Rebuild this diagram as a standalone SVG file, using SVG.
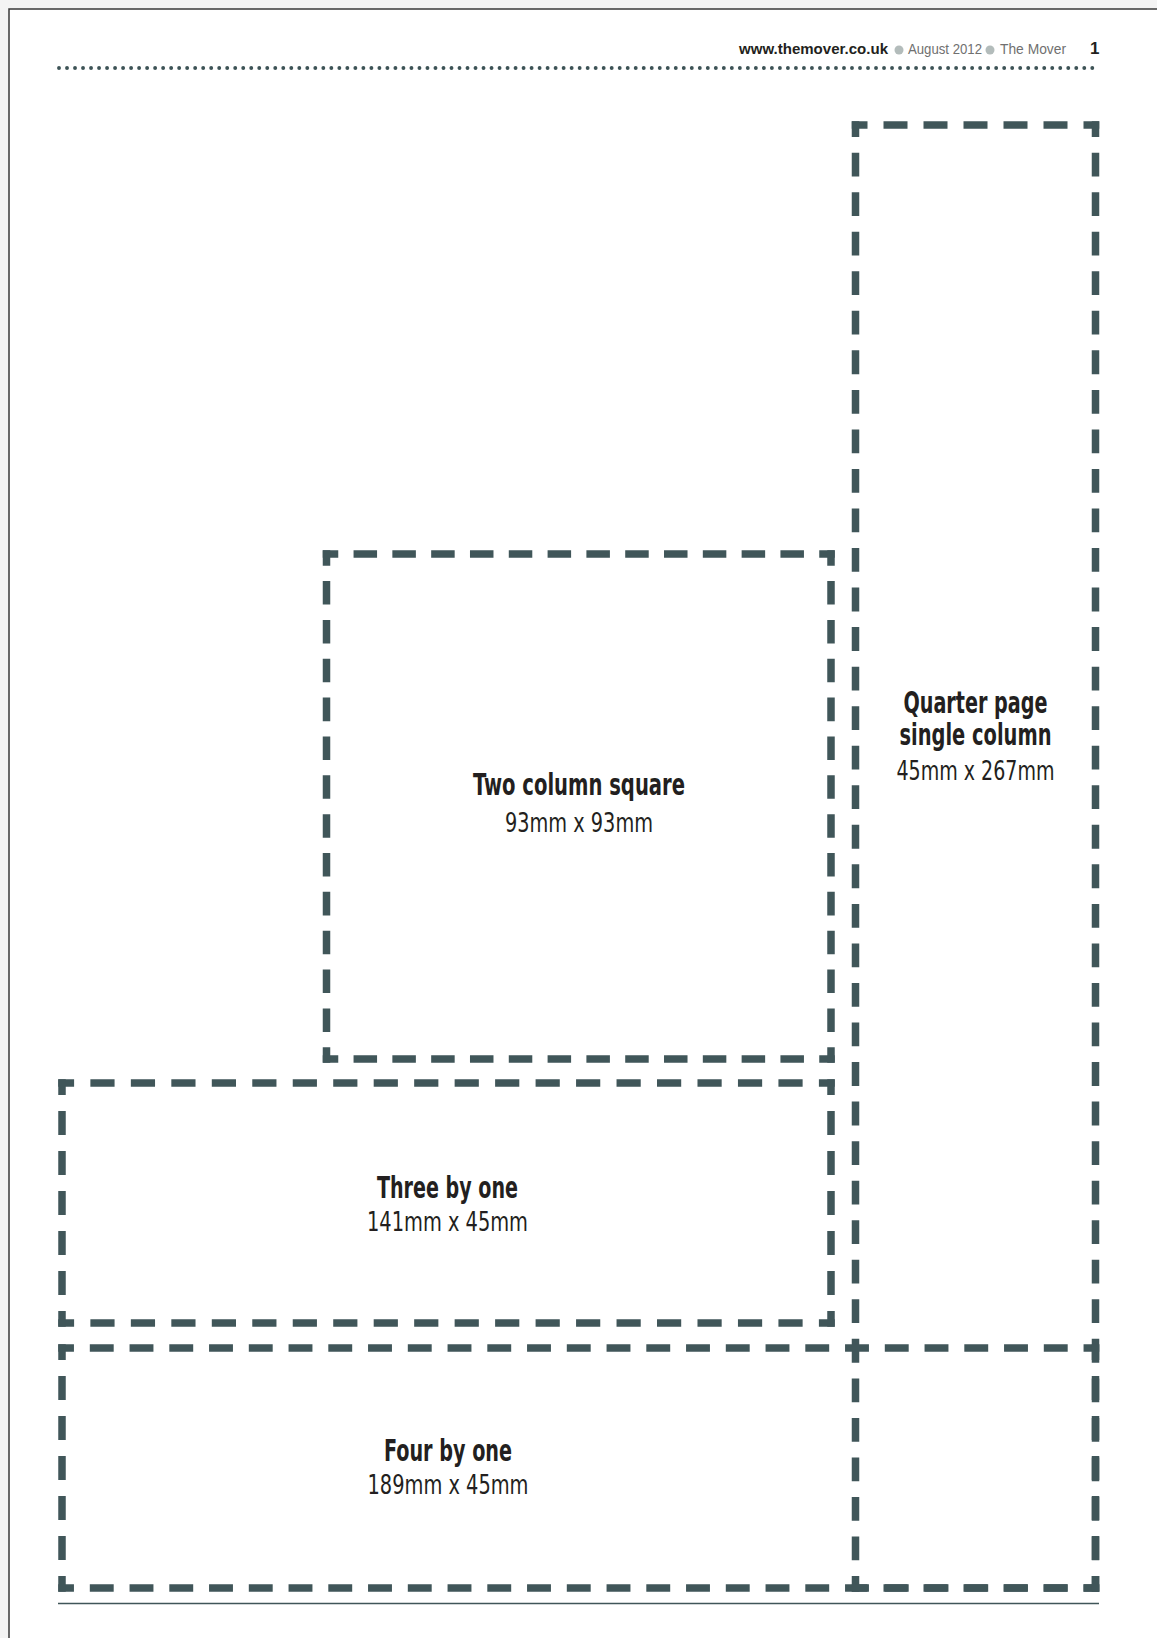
<svg xmlns="http://www.w3.org/2000/svg" width="1157" height="1638" viewBox="0 0 1157 1638">
<style>
.dash{fill:none;stroke:#405659;stroke-width:7.5;stroke-linecap:square;stroke-dasharray:16.5 23.5;stroke-dashoffset:8.25}
.lb{font-family:"Liberation Sans Narrow","DejaVu Sans Condensed","Roboto Condensed","Liberation Sans",sans-serif;font-stretch:condensed;text-anchor:middle;fill:#231f20}
.b{font-weight:bold;font-size:30px}
.r{font-size:26px}
.hd{font-family:"Liberation Sans","Open Sans",sans-serif;font-size:14px}
</style>
<rect x="0" y="0" width="1157" height="1638" fill="#f4f4f4"/>
<rect x="9" y="9" width="1160" height="1640" fill="#ffffff" stroke="#3a3a3a" stroke-width="1.5"/>
<g id="header">
<text class="hd" x="739" y="54" font-weight="bold" fill="#231f20" textLength="149" lengthAdjust="spacingAndGlyphs">www.themover.co.uk</text>
<circle cx="899" cy="50" r="4.5" fill="#b3bcbb"/>
<text class="hd" x="908" y="54" fill="#707070" textLength="74" lengthAdjust="spacingAndGlyphs">August 2012</text>
<circle cx="990" cy="50" r="4.5" fill="#b3bcbb"/>
<text class="hd" x="1000" y="54" fill="#707070" textLength="66" lengthAdjust="spacingAndGlyphs">The Mover</text>
<text x="1090" y="54" font-family="Liberation Sans, sans-serif" font-weight="bold" font-size="17" fill="#231f20">1</text>
<line x1="59" y1="68" x2="1100" y2="68" stroke="#3d5356" stroke-width="3.9" stroke-linecap="round" stroke-dasharray="0 8.01"/>
</g>
<g id="footer">
<line x1="58" y1="1603.5" x2="1099" y2="1603.5" stroke="#405659" stroke-width="1.3"/>
</g>
<g id="connectors"></g>
<g id="quarter-page">
<path class="dash" d="M855.5 125H1095.5" pathLength="240"/>
<path class="dash" d="M855.5 1588H1095.5" pathLength="240"/>
<path class="dash" d="M855.5 125V1588" pathLength="1480"/>
<path class="dash" d="M1095.5 125V1588" pathLength="1480"/>
<text class="lb b" x="975.5" y="713" textLength="144" lengthAdjust="spacingAndGlyphs">Quarter page</text>
<text class="lb b" x="975.5" y="745" textLength="152" lengthAdjust="spacingAndGlyphs">single column</text>
<text class="lb r" x="975.5" y="780" textLength="158" lengthAdjust="spacingAndGlyphs">45mm x 267mm</text>
</g>
<g id="two-column-square">
<path class="dash" d="M326.5 554H831" pathLength="520"/>
<path class="dash" d="M326.5 1059H831" pathLength="520"/>
<path class="dash" d="M326.5 554V1059" pathLength="520"/>
<path class="dash" d="M831 554V1059" pathLength="520"/>
<text class="lb b" x="579" y="795" textLength="212" lengthAdjust="spacingAndGlyphs">Two column square</text>
<text class="lb r" x="579" y="832" textLength="148" lengthAdjust="spacingAndGlyphs">93mm x 93mm</text>
</g>
<g id="three-by-one">
<path class="dash" d="M62 1083H831" pathLength="760"/>
<path class="dash" d="M62 1323H831" pathLength="760"/>
<path class="dash" d="M62 1083V1323" pathLength="240"/>
<path class="dash" d="M831 1083V1323" pathLength="240"/>
<text class="lb b" x="447.5" y="1198" textLength="141" lengthAdjust="spacingAndGlyphs">Three by one</text>
<text class="lb r" x="447.5" y="1231" textLength="161" lengthAdjust="spacingAndGlyphs">141mm x 45mm</text>
</g>
<g id="four-by-one">
<path class="dash" d="M62 1348H1095.5" pathLength="1040"/>
<path class="dash" d="M62 1588H1095.5" pathLength="1040"/>
<path class="dash" d="M62 1348V1588" pathLength="240"/>
<path class="dash" d="M1095.5 1348V1588" pathLength="240"/>
<text class="lb b" x="448" y="1461" textLength="128" lengthAdjust="spacingAndGlyphs">Four by one</text>
<text class="lb r" x="448" y="1494" textLength="161" lengthAdjust="spacingAndGlyphs">189mm x 45mm</text>
</g>
</svg>
